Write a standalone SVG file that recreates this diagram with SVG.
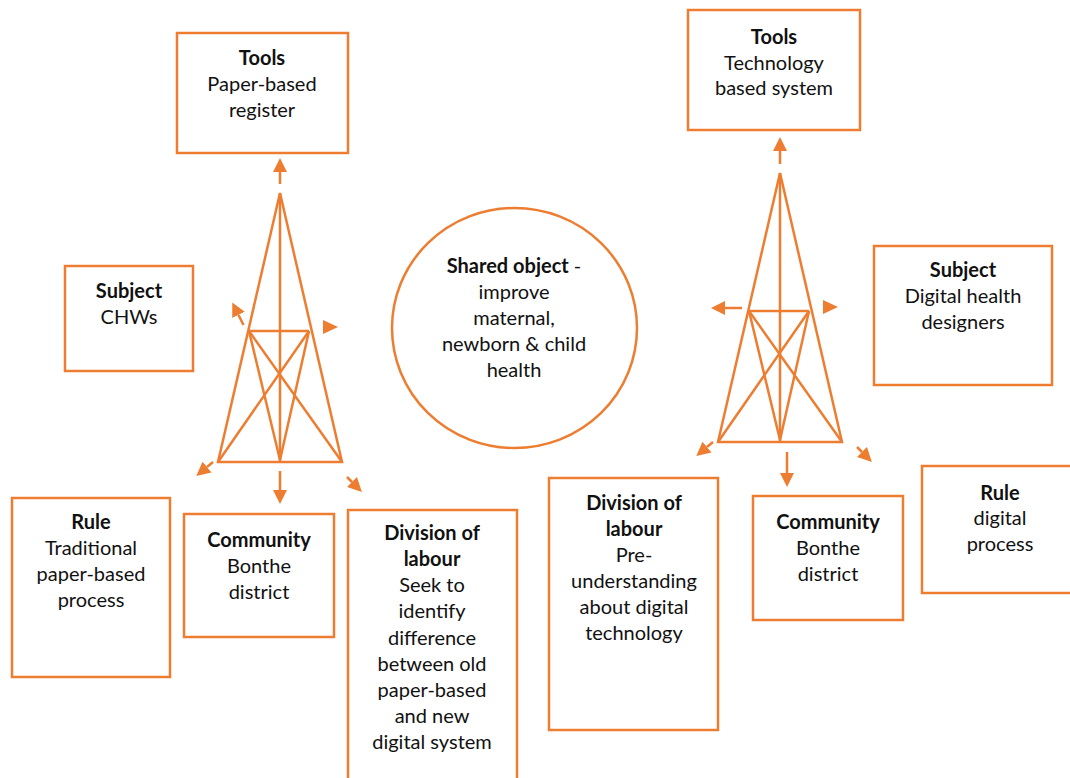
<svg xmlns="http://www.w3.org/2000/svg" width="1070" height="778" viewBox="0 0 1070 778">
<style>
.box{fill:#fff;stroke:#ED7D31;stroke-width:2.5}
.ln{stroke:#ED7D31;stroke-width:2.5;fill:none;stroke-linecap:butt}
.hd{fill:#ED7D31;stroke:none}
text{font-family:Lato,"Liberation Sans",sans-serif;font-size:20px;fill:#111;text-anchor:middle}
.b{font-weight:bold}
</style>
<defs>
<marker id="ah" viewBox="0 0 10 10" refX="0" refY="5" markerWidth="5.6" markerHeight="6" orient="auto" markerUnits="strokeWidth">
<path d="M0,0 L10,5 L0,10 Z" class="hd"/>
</marker>
</defs>
<rect width="1070" height="778" fill="#fff"/>

<g id="connectors">
<!-- left activity triangle -->
<g class="ln">
<path d="M280,193 L218,462 L342,462 Z"/>
<path d="M280,193 L280,462"/>
<path d="M249,331 L309,331"/>
<path d="M249,331 L342,462 M309,331 L218,462"/>
<path d="M249,331 L280,460 L309,331"/>
</g>
<line class="ln" x1="280" y1="184" x2="280" y2="172" marker-end="url(#ah)"/>
<line class="ln" x1="243.5" y1="325" x2="238.5" y2="315" marker-end="url(#ah)"/>
<polygon class="hd" points="323,320 323,334 338,327"/>
<line class="ln" x1="213" y1="462" x2="207" y2="467" marker-end="url(#ah)"/>
<line class="ln" x1="280" y1="471" x2="280" y2="490" marker-end="url(#ah)"/>
<line class="ln" x1="347" y1="477" x2="352" y2="482" marker-end="url(#ah)"/>

<!-- right activity triangle -->
<g class="ln">
<path d="M780,173 L718,442 L842,442 Z"/>
<path d="M780,173 L780,442"/>
<path d="M749,311 L809,311"/>
<path d="M749,311 L842,442 M809,311 L718,442"/>
<path d="M749,311 L780,440 L809,311"/>
</g>
<line class="ln" x1="780" y1="164" x2="780" y2="151" marker-end="url(#ah)"/>
<line class="ln" x1="742" y1="308" x2="725" y2="308" marker-end="url(#ah)"/>
<polygon class="hd" points="823,300 823,314 838,307"/>
<line class="ln" x1="713" y1="442" x2="707" y2="447" marker-end="url(#ah)"/>
<line class="ln" x1="787" y1="452" x2="787" y2="473" marker-end="url(#ah)"/>
<line class="ln" x1="857" y1="447" x2="862" y2="452" marker-end="url(#ah)"/>
</g>

<g id="tools-left">
<rect class="box" x="177" y="33" width="171" height="120"/>
<text x="262" y="65" class="b">Tools</text>
<text x="262" y="91">Paper-based</text>
<text x="262" y="117">register</text>
</g>
<g id="subject-left">
<rect class="box" x="65" y="266" width="128" height="105"/>
<text x="129" y="298" class="b">Subject</text>
<text x="129" y="324">CHWs</text>
</g>
<g id="rule-left">
<rect class="box" x="12" y="498" width="158" height="179"/>
<text x="91" y="529" class="b">Rule</text>
<text x="91" y="555">Traditional</text>
<text x="91" y="581">paper-based</text>
<text x="91" y="607">process</text>
</g>
<g id="community-left">
<rect class="box" x="184" y="514" width="150" height="123"/>
<text x="259" y="547" class="b">Community</text>
<text x="259" y="573">Bonthe</text>
<text x="259" y="599">district</text>
</g>
<g id="division-left">
<rect class="box" x="348" y="510" width="169" height="280"/>
<text x="432" y="540" class="b">Division of</text>
<text x="432" y="566" class="b">labour</text>
<text x="432" y="592">Seek to</text>
<text x="432" y="618">identify</text>
<text x="432" y="645">difference</text>
<text x="432" y="671">between old</text>
<text x="432" y="697">paper-based</text>
<text x="432" y="723">and new</text>
<text x="432" y="749">digital system</text>
</g>

<g id="shared-object">
<ellipse cx="514.5" cy="328" rx="122.5" ry="120" class="box"/>
<text x="514" y="273"><tspan class="b">Shared object</tspan> -</text>
<text x="514" y="299">improve</text>
<text x="514" y="325">maternal,</text>
<text x="514" y="351">newborn &amp; child</text>
<text x="514" y="377">health</text>
</g>

<g id="tools-right">
<rect class="box" x="688" y="10" width="172" height="120"/>
<text x="774" y="44" class="b">Tools</text>
<text x="774" y="70">Technology</text>
<text x="774" y="95">based system</text>
</g>
<g id="subject-right">
<rect class="box" x="874" y="246" width="178" height="139"/>
<text x="963" y="277" class="b">Subject</text>
<text x="963" y="303">Digital health</text>
<text x="963" y="329">designers</text>
</g>
<g id="division-right">
<rect class="box" x="549" y="478" width="169" height="252"/>
<text x="634" y="510" class="b">Division of</text>
<text x="634" y="536" class="b">labour</text>
<text x="634" y="562">Pre-</text>
<text x="634" y="588">understanding</text>
<text x="634" y="614">about digital</text>
<text x="634" y="640">technology</text>
</g>
<g id="community-right">
<rect class="box" x="753" y="496" width="150" height="124"/>
<text x="828" y="529" class="b">Community</text>
<text x="828" y="555">Bonthe</text>
<text x="828" y="581">district</text>
</g>
<g id="rule-right">
<rect class="box" x="922" y="466" width="160" height="127"/>
<text x="1000" y="500" class="b">Rule</text>
<text x="1000" y="525">digital</text>
<text x="1000" y="551">process</text>
</g>
</svg>
